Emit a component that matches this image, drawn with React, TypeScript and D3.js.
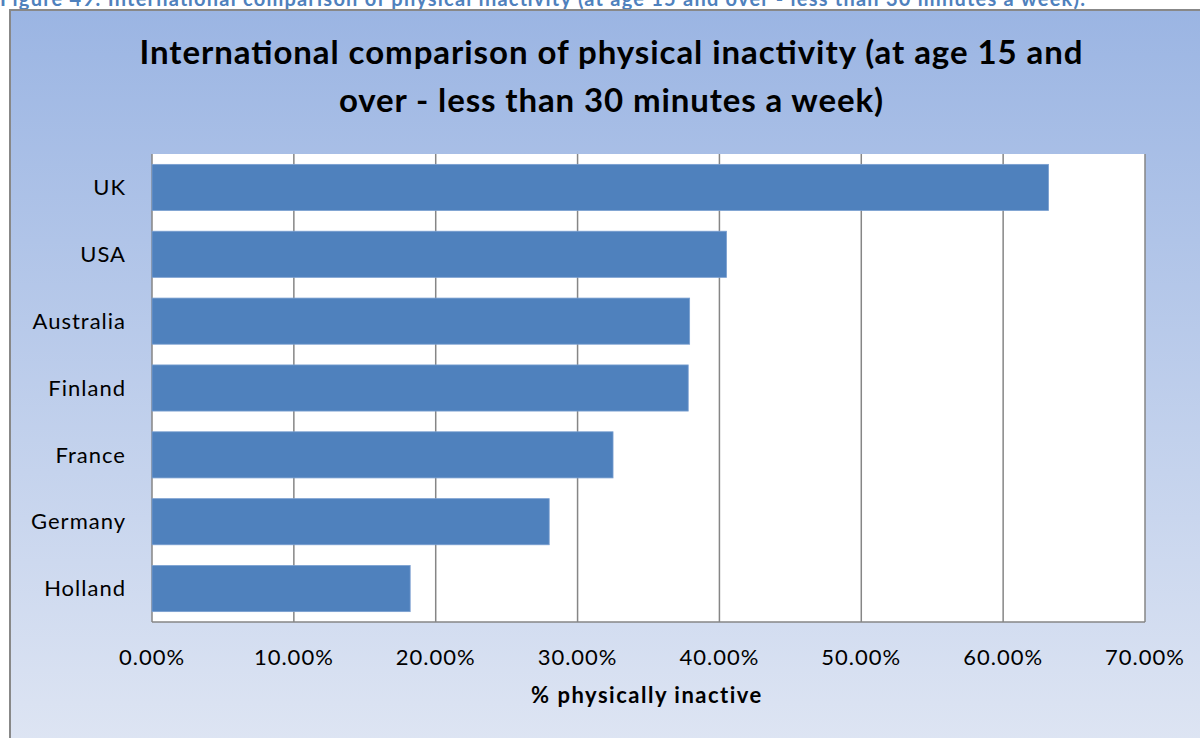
import * as d3 from "d3"
import { useEffect } from "react"

const countries = ["UK", "USA", "Australia", "Finland", "France", "Germany", "Holland"]
const inactive = [0.632, 0.405, 0.379, 0.378, 0.325, 0.28, 0.182]
const ticks = [0, 0.1, 0.2, 0.3, 0.4, 0.5, 0.6, 0.7]

const W = 1200
const H = 738
const font = "Lato, 'Open Sans', sans-serif"

export default function App() {
  useEffect(() => {
    document.body.style.margin = "0"
  }, [])

  const x = d3.scaleLinear().domain([0, 0.7]).range([152, 1145])
  const y = d3
    .scaleBand()
    .domain(countries)
    .range([154, 622])
    .paddingInner(0.31)
    .paddingOuter(0.155)

  const fmt = (v: number) => `${(v * 100).toFixed(2)}%`

  return (
    <svg width={W} height={H} style={{ display: "block" }}>
      <defs>
        <linearGradient id="bg" x1="0" y1="0" x2="0" y2="1">
          <stop offset="0%" stopColor="#9bb5e3" />
          <stop offset="100%" stopColor="#dee5f3" />
        </linearGradient>
      </defs>
      <rect width={W} height={H} fill="#fff" />
      <text
        x={0}
        y={6}
        fontFamily={font}
        fontWeight={700}
        fontSize={20}
        fill="#4f81bd"
        textLength={1085}
        lengthAdjust="spacing"
      >
        Figure 49: International comparison of physical inactivity (at age 15 and over - less than 30 minutes a week).
      </text>
      <rect x={10} y={10} width={W} height={H} fill="url(#bg)" stroke="#888" strokeWidth={2} />

      <text fontFamily={font} fontWeight={700} fontSize={33} textAnchor="middle" fill="#000">
        <tspan x={611} y={64} textLength={943} lengthAdjust="spacing">
          International comparison of physical inactivity (at age 15 and
        </tspan>
        <tspan x={611} y={112} textLength={544} lengthAdjust="spacing">
          over - less than 30 minutes a week)
        </tspan>
      </text>

      <rect x={152} y={154} width={993} height={468} fill="#fff" />
      {ticks.map((t) => (
        <line key={t} x1={x(t)} x2={x(t)} y1={154} y2={622} stroke="#868686" strokeWidth={1.5} />
      ))}
      <line x1={152} x2={1145} y1={622} y2={622} stroke="#868686" strokeWidth={1.5} />

      {countries.map((c, i) => (
        <rect
          key={c}
          x={x(0)}
          y={y(c)}
          width={x(inactive[i]) - x(0)}
          height={y.bandwidth()}
          fill="#4f81bd"
          stroke="#7a9fd0"
          strokeWidth={0.8}
        />
      ))}

      {countries.map((c) => (
        <text
          key={c}
          x={126}
          y={(y(c) ?? 0) + y.bandwidth() / 2}
          dy="0.35em"
          textAnchor="end"
          fontFamily={font}
          fontSize={22}
          letterSpacing={1}
          fill="#000"
        >
          {c}
        </text>
      ))}

      {ticks.map((t) => (
        <text
          key={t}
          x={x(t)}
          y={665}
          textAnchor="middle"
          fontFamily={font}
          fontSize={22}
          letterSpacing={1}
          fill="#000"
        >
          {fmt(t)}
        </text>
      ))}

      <text
        x={647}
        y={703}
        textAnchor="middle"
        fontFamily={font}
        fontWeight={700}
        fontSize={22}
        letterSpacing={1.5}
        fill="#000"
      >
        % physically inactive
      </text>
    </svg>
  )
}
